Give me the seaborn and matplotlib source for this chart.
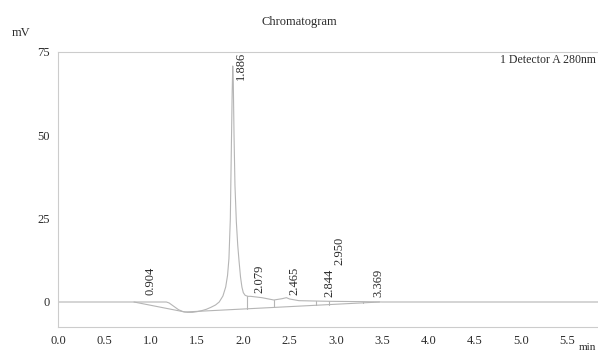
import numpy as np
import pandas as pd
import seaborn as sns
import matplotlib.pyplot as plt
from matplotlib.ticker import MultipleLocator

# signal trace (min, mV)
time = [0.0, 0.5, 0.82, 1.0, 1.17, 1.2, 1.25, 1.3, 1.35, 1.4, 1.45, 1.5, 1.55,
        1.6, 1.65, 1.7, 1.74, 1.78, 1.81, 1.83, 1.845, 1.86, 1.872, 1.88,
        1.886, 1.892, 1.90, 1.91, 1.925, 1.94, 1.955, 1.97, 1.985, 2.0, 2.02,
        2.05, 2.079, 2.2, 2.33, 2.42, 2.465, 2.5, 2.6, 2.844, 2.95, 3.3, 3.5,
        4.0, 6.0]
signal = [0.0, 0.0, 0.0, 0.0, 0.0, -0.3, -1.3, -2.3, -2.9, -3.1, -3.1, -2.9,
          -2.6, -2.2, -1.6, -0.9, 0.0, 1.8, 4.5, 8.0, 13.0, 25.0, 48.0, 63.0,
          70.8, 66.0, 50.0, 35.0, 24.0, 17.0, 12.0, 7.5, 4.5, 2.8, 2.0,
          1.7, 1.7, 1.3, 0.6, 1.0, 1.3, 0.9, 0.4, 0.25, 0.2, 0.1, 0.0,
          0.0, 0.0]

# integration baseline
base_t = [0.82, 1.37, 3.47]
base_v = [0.0, -3.0, 0.0]

# peak boundaries (drop lines)
drop_t = [2.035, 2.33, 2.78, 2.93, 3.29]

# peak labels
peak_t = [0.904, 1.886, 2.079, 2.465, 2.844, 2.950, 3.369]
peak_lab = ['0.904', '1.886', '2.079', '2.465', '2.844', '2.950', '3.369']
lab_y = [2.1, 66.5, 2.7, 2.1, 1.5, 11.1, 1.5]

sns.set_style('white')
plt.rcParams['font.family'] = ['Liberation Serif', 'DejaVu Serif']
txt = '#2b2b2b'
line_c = '#b5b5b5'

fig = plt.figure(figsize=(5.98, 3.54), dpi=100)
ax = fig.add_axes([58/598, 27/354, 542/598, 275/354])

df = pd.DataFrame({'t': time, 'mV': signal})
sns.lineplot(data=df, x='t', y='mV', ax=ax, color=line_c, lw=0.8)
ax.plot(base_t, base_v, color=line_c, lw=0.8)
for t in drop_t:
    ax.plot([t, t], [np.interp(t, base_t, base_v), np.interp(t, time, signal)],
            color=line_c, lw=0.8)

for t, s, y in zip(peak_t, peak_lab, lab_y):
    ax.text(t + 0.09, y, s, rotation=90, ha='center', va='bottom',
            fontsize=9, color=txt)

ax.set_xlim(0, 5.85)
ax.set_ylim(-7.5, 75)
ax.xaxis.set_major_locator(MultipleLocator(0.5))
ax.xaxis.set_minor_locator(MultipleLocator(0.1))
ax.yaxis.set_major_locator(MultipleLocator(25))
ax.yaxis.set_minor_locator(MultipleLocator(5))
ax.xaxis.set_major_formatter(plt.FormatStrFormatter('%.1f'))
ax.tick_params(axis='both', which='both', direction='out', length=4,
               width=0.7, color='#bbbbbb', labelsize=9, labelcolor=txt, pad=2)
ax.set_xlabel('')
ax.set_ylabel('')
for side in ['left', 'top', 'bottom']:
    ax.spines[side].set_color('#cccccc')
    ax.spines[side].set_linewidth(0.8)
ax.spines['right'].set_visible(False)

fig.text(596/598, 1 - 60/354, '1 Detector A 280nm', ha='right', va='center',
         fontsize=8.5, color=txt)
fig.text(0.5, 1 - 22/354, 'Chromatogram', ha='center', va='center',
         fontsize=9, color=txt)
fig.text(12/598, 1 - 33/354, 'mV', ha='left', va='center', fontsize=9, color=txt)
fig.text(596/598, 2/354, 'min', ha='right', va='bottom', fontsize=8, color=txt)

fig.savefig('out.png', dpi=100)
